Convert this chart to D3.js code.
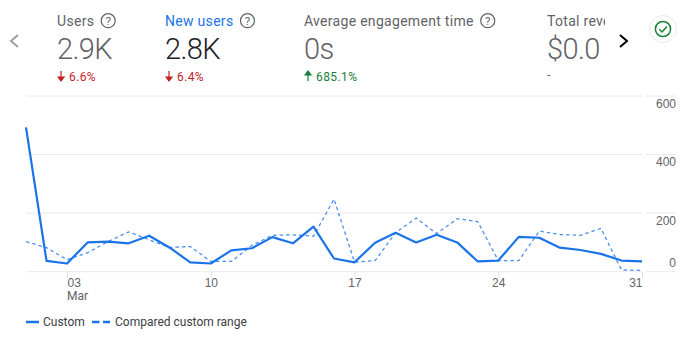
<!DOCTYPE html>
<html>
<head>
<meta charset="utf-8">
<script src="https://cdn.jsdelivr.net/npm/d3@7/dist/d3.min.js"></script>
<style>
  html, body { margin: 0; padding: 0; background: #fff; }
  svg { display: block; font-family: Roboto, sans-serif; }
</style>
</head>
<body>
<svg id="chart"></svg>
<script>
const svgWidth = 697;
const svgHeight = 358;

// values
const days = d3.range(1, 32);
const custom = [493, 37, 28, 100, 103, 97, 123, 82, 32, 28, 73, 80, 118, 97, 154, 45, 32, 99, 133, 100, 126, 100, 35, 38, 119, 116, 82, 74, 61, 38, 35];
const compared = [103, 82, 41, 65, 103, 136, 109, 83, 86, 35, 35, 90, 124, 126, 121, 248, 33, 38, 133, 183, 130, 181, 171, 38, 38, 139, 127, 124, 148, 6, 4];
const yTicks = [0, 200, 400, 600];
const xTicks = [3, 10, 17, 24, 31];

const metricNames = ['Users', 'New users', 'Average engagement time', 'Total revenue'];
const metricValues = ['2.9K', '2.8K', '0s', '$0.0'];
const metricChanges = ['6.6%', '6.4%', '685.1%', '-'];
const metricDirections = ['down', 'down', 'up', 'none'];
const legendNames = ['Custom', 'Compared custom range'];

// left edge of each metric column
const metricX = [57, 165, 304, 547];

const svg = d3.select('#chart')
  .attr('width', svgWidth)
  .attr('height', svgHeight);

const x = d3.scaleLinear().domain([1, 31]).range([26, 642]);
const y = d3.scaleLinear().domain([0, 600]).range([271.7, 96]);

// grid, the part over the plot and the short part under the right axis labels
const grid = svg.append('g');
[[26, 642], [646, 676]].forEach(([x1, x2]) => {
  grid.selectAll(null)
    .data(yTicks)
    .join('line')
    .attr('x1', x1)
    .attr('x2', x2)
    .attr('y1', d => y(d))
    .attr('y2', d => y(d))
    .attr('stroke', '#e8eaed')
    .attr('stroke-width', 1);
});

// x axis
const xAxis = svg.append('g')
  .attr('transform', `translate(0,${y(0)})`)
  .call(d3.axisBottom(x).tickValues(xTicks).tickSize(6).tickPadding(1).tickFormat(d3.format('02d')));
xAxis.select('.domain').remove();
xAxis.selectAll('line').attr('stroke', '#dadce0');
xAxis.selectAll('text')
  .attr('fill', '#5f6368')
  .attr('font-size', 12)
  .attr('text-anchor', d => (d === 3 ? 'start' : d === 31 ? 'end' : 'middle'));
svg.append('text')
  .attr('x', x(3))
  .attr('y', 300)
  .attr('fill', '#5f6368')
  .attr('font-size', 12)
  .text('Mar');

// y axis
const yAxis = svg.append('g')
  .attr('transform', 'translate(676,0)')
  .call(d3.axisLeft(y).tickValues(yTicks).tickSize(0).tickPadding(0));
yAxis.select('.domain').remove();
yAxis.selectAll('text')
  .attr('fill', '#5f6368')
  .attr('font-size', 12)
  .attr('dy', d => (d === 0 ? -5 : 11));

const line = d3.line()
  .x((d, i) => x(days[i]))
  .y(d => y(d));

svg.append('path')
  .datum(compared)
  .attr('fill', 'none')
  .attr('stroke', '#4d90f0')
  .attr('stroke-width', 1.3)
  .attr('stroke-dasharray', '3.5,3')
  .attr('d', line);

svg.append('path')
  .datum(custom)
  .attr('fill', 'none')
  .attr('stroke', '#1a73e8')
  .attr('stroke-width', 2.2)
  .attr('stroke-linejoin', 'round')
  .attr('d', line);

// metric header, the last one is cut off at the right
svg.append('clipPath')
  .attr('id', 'header-clip')
  .append('rect')
  .attr('x', 0)
  .attr('y', 0)
  .attr('width', 605)
  .attr('height', 90);

const header = svg.append('g').attr('clip-path', 'url(#header-clip)');

function drawHelp(cx) {
  const g = header.append('g');
  g.append('circle')
    .attr('cx', cx)
    .attr('cy', 20.7)
    .attr('r', 7)
    .attr('fill', 'none')
    .attr('stroke', '#5f6368')
    .attr('stroke-width', 1.2);
  g.append('text')
    .attr('x', cx)
    .attr('y', 25)
    .attr('text-anchor', 'middle')
    .attr('font-size', 11.5)
    .attr('fill', '#5f6368')
    .text('?');
}

metricNames.forEach((name, i) => {
  const active = i === 1;
  const label = header.append('text')
    .attr('x', metricX[i])
    .attr('y', 26)
    .attr('font-size', 14)
    .attr('letter-spacing', 0.3)
    .attr('fill', active ? '#1a73e8' : '#5f6368')
    .text(name);
  if (i < 3) {
    drawHelp(metricX[i] + label.node().getComputedTextLength() + 14);
  }

  header.append('text')
    .attr('x', metricX[i])
    .attr('y', 59)
    .attr('font-size', 29)
    .attr('font-weight', 300)
    .attr('letter-spacing', -0.6)
    .attr('fill', active ? '#202124' : '#5f6368')
    .text(metricValues[i]);

  const dir = metricDirections[i];
  const color = dir === 'up' ? '#188038' : '#c5221f';
  if (dir === 'none') {
    header.append('text')
      .attr('x', metricX[i])
      .attr('y', 79)
      .attr('font-size', 12)
      .attr('fill', '#5f6368')
      .text(metricChanges[i]);
    return;
  }
  const ax = metricX[i] + 4;
  const arrow = dir === 'down'
    ? `M${ax},71 v8 M${ax - 3},77 L${ax},81 L${ax + 3},77 Z`
    : `M${ax},81 v-8 M${ax - 3},75 L${ax},71 L${ax + 3},75 Z`;
  header.append('path')
    .attr('d', arrow)
    .attr('fill', color)
    .attr('stroke', color)
    .attr('stroke-width', 1.2);
  header.append('text')
    .attr('x', metricX[i] + 12)
    .attr('y', 81)
    .attr('font-size', 12)
    .attr('letter-spacing', 0.4)
    .attr('fill', color)
    .text(metricChanges[i]);
});

// carousel chevrons
svg.append('path')
  .attr('d', 'M18,35 L11,41 L18,47')
  .attr('fill', 'none')
  .attr('stroke', '#9aa0a6')
  .attr('stroke-width', 2);
svg.append('path')
  .attr('d', 'M620,35 L627,41 L620,47')
  .attr('fill', 'none')
  .attr('stroke', '#000')
  .attr('stroke-width', 2);

// status badge
svg.append('circle')
  .attr('cx', 663)
  .attr('cy', 29)
  .attr('r', 13.5)
  .attr('fill', '#fff')
  .attr('stroke', '#e8eaed');
svg.append('circle')
  .attr('cx', 663)
  .attr('cy', 29)
  .attr('r', 7.6)
  .attr('fill', 'none')
  .attr('stroke', '#188038')
  .attr('stroke-width', 1.5);
svg.append('path')
  .attr('d', 'M659.3,29.3 L662,32 L667,26.5')
  .attr('fill', 'none')
  .attr('stroke', '#188038')
  .attr('stroke-width', 1.5);

// legend
const legendY = 322;
svg.append('line')
  .attr('x1', 26)
  .attr('x2', 39)
  .attr('y1', legendY)
  .attr('y2', legendY)
  .attr('stroke', '#1a73e8')
  .attr('stroke-width', 2.5);
svg.append('line')
  .attr('x1', 92)
  .attr('x2', 110)
  .attr('y1', legendY)
  .attr('y2', legendY)
  .attr('stroke', '#1a73e8')
  .attr('stroke-width', 2.5)
  .attr('stroke-dasharray', '7.5,3.5');
svg.selectAll('.legend-label')
  .data(legendNames)
  .join('text')
  .attr('class', 'legend-label')
  .attr('x', (d, i) => (i === 0 ? 43 : 115))
  .attr('y', 326)
  .attr('font-size', 12)
  .attr('fill', '#3c4043')
  .text(d => d);
</script>
</body>
</html>
